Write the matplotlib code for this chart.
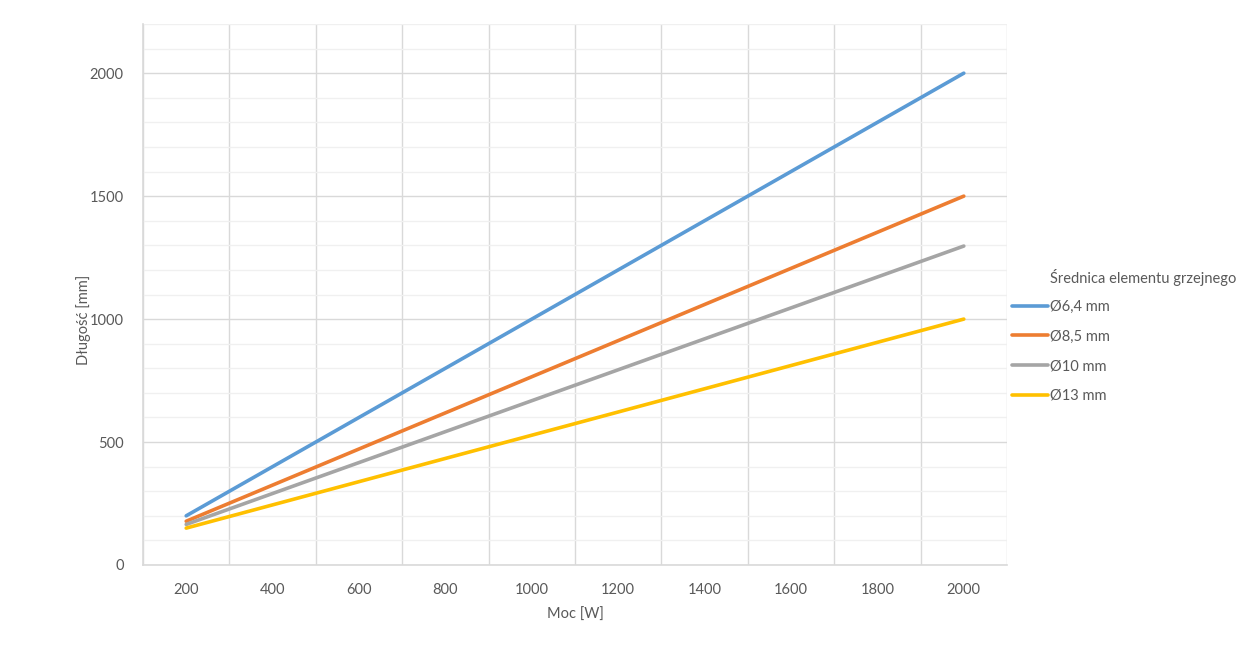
import matplotlib
matplotlib.use("Agg")
import matplotlib.pyplot as plt
from matplotlib.ticker import MultipleLocator, FixedLocator

plt.rcParams['font.family'] = ['Lato', 'DejaVu Sans']

power = [200, 2000]
series = {
    "Ø6,4 mm": [200, 2000],
    "Ø8,5 mm": [178, 1500],
    "Ø10 mm": [165, 1297],
    "Ø13 mm": [150, 1000],
}
colors = ["#5B9BD5", "#ED7D31", "#A5A5A5", "#FFC000"]
xticks = list(range(200, 2001, 200))
xgrid = list(range(100, 2101, 200))
legend_title = "Średnica elementu grzejnego"

fig = plt.figure(figsize=(12.51, 6.72), dpi=100)
ax = fig.add_axes([143/1251, 1 - 565/672, (1007-143)/1251, (565-24)/672])

for (name, vals), c in zip(series.items(), colors):
    ax.plot(power, vals, color=c, lw=2.6, label=name, solid_capstyle='round')

ax.set_xlim(100, 2100)
ax.set_ylim(0, 2200)
ax.xaxis.set_major_locator(FixedLocator(xticks))
ax.xaxis.set_minor_locator(FixedLocator(xgrid))
ax.yaxis.set_major_locator(MultipleLocator(500))
ax.yaxis.set_minor_locator(MultipleLocator(100))

ax.grid(False)
ax.grid(True, axis='x', which='minor', color='#D9D9D9', lw=1)
ax.grid(True, axis='y', which='minor', color='#F0F0F0', lw=1)
ax.grid(True, axis='y', which='major', color='#D9D9D9', lw=1)
ax.set_axisbelow(True)

for s in ['top', 'right']:
    ax.spines[s].set_visible(False)
for s in ['left', 'bottom']:
    ax.spines[s].set_color('#D9D9D9')
    ax.spines[s].set_linewidth(1.2)

ax.tick_params(which='both', length=0, labelsize=10.5, labelcolor='#595959')
ax.tick_params(axis='x', pad=13)
ax.tick_params(axis='y', pad=14)

ax.set_xlabel("Moc [W]", fontsize=10.5, color='#595959', labelpad=8)
ax.set_ylabel("Długość [mm]", fontsize=10.5, color='#595959', labelpad=0)
ax.yaxis.set_label_coords(91/1251, 1 - 320/672, transform=fig.transFigure)

fig.text(1050/1251, 1 - 277/672, legend_title, fontsize=10.5, color='#595959',
         ha='left', va='center')
leg = ax.legend(loc='upper left', bbox_to_anchor=(1006/1251, 1 - 294/672),
                bbox_transform=fig.transFigure, frameon=False, fontsize=10.5,
                handlelength=2.5, handletextpad=0.15, labelspacing=1.07,
                borderaxespad=0)
for t in leg.get_texts():
    t.set_color('#595959')

fig.savefig("out.png", dpi=100)
